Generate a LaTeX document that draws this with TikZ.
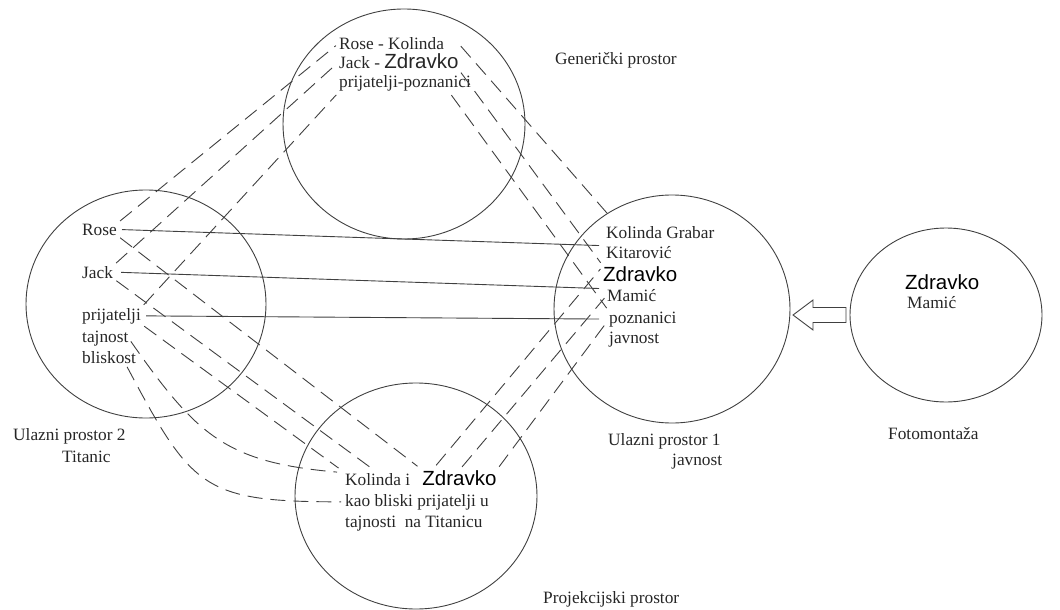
\documentclass[tikz,border=0pt]{standalone}
\usepackage{fontspec}
\setmainfont{Liberation Serif}
\setsansfont{Liberation Sans}
\usetikzlibrary{shapes.geometric, positioning}
\newcommand{\zdravko}{{\sffamily\fontsize{20.5}{24}\selectfont Zdravko}}
\tikzset{
    %Define style for the spaces
    prostor/.style={
           ellipse,
           draw=black!75, line width=0.9pt,
           inner sep=0pt, outer sep=0pt},
    %Define style for the labels
    oznaka/.style={
           inner sep=0pt,
           anchor=base west,
           text=black!85,
           font=\fontsize{17.3}{21}\selectfont},
    % Define style for the sans labels
    ime/.style={
           oznaka,
           text=black,
           font=\sffamily\fontsize{20.5}{24}\selectfont},
    % Define line styles
    veza/.style={
           draw=black!75,
           line width=0.9pt},
    mapa/.style={
           veza,
           dash pattern=on 15pt off 8pt,
           shorten <=4pt,
           shorten >=4pt}
}
\begin{document}
\begin{tikzpicture}[x=1pt, y=-1pt]
	\useasboundingbox (0,0) rectangle (1060,610);
	%
	% krugovi
	%
	\node[prostor, minimum width=242pt, minimum height=230pt] (gen) at (404,124) {};
	\node[prostor, minimum width=240pt, minimum height=228pt] (ul2) at (146,304) {};
	\node[prostor, minimum width=242pt, minimum height=226pt] (proj) at (416,496) {};
	\node[prostor, minimum width=236pt, minimum height=228pt] (ul1) at (672,309) {};
	\node[prostor, minimum width=192pt, minimum height=174pt] (foto) at (946,315) {};
	%
	% tekst
	%
	\node[oznaka] (rk) at (339,49) {Rose - Kolinda};
	\node[oznaka] (jz) at ([yshift=-20pt]rk.base west) {Jack - \zdravko};
	\node[oznaka] (pp) at ([yshift=-19pt]jz.base west) {prijatelji-poznanici};
	\node[oznaka] (genlab) at (555,65) {Generički prostor};

	\node[oznaka] (rose2) at (82,235) {Rose};
	\node[oznaka] (jack2) at (82,278) {Jack};
	\node[oznaka] (prij2) at (82,320) {prijatelji};
	\node[oznaka] (taj2) at ([yshift=-22pt]prij2.base west) {tajnost};
	\node[oznaka] (blis2) at ([yshift=-21pt]taj2.base west) {bliskost};
	\node[oznaka] (ul2lab) at (13,440) {Ulazni prostor 2};
	\node[oznaka] (tit) at (62,462) {Titanic};

	\node[oznaka] (ki) at (345,485) {Kolinda i};
	\node[ime] (zdr3) at ([xshift=12pt]ki.base east) {Zdravko};
	\node[oznaka] (kb) at ([yshift=-21pt]ki.base west) {kao bliski prijatelji u};
	\node[oznaka] (tn) at ([yshift=-21pt]kb.base west) {tajnosti\ \ na Titanicu};
	\node[oznaka] (projlab) at (543,603) {Projekcijski prostor};

	\node[oznaka] (kg) at (606,238) {Kolinda Grabar};
	\node[oznaka] (kit) at ([yshift=-20pt]kg.base west) {Kitarović};
	\node[ime] (zdr1) at (603,281) {Zdravko};
	\node[oznaka] (mam1) at (607,301) {Mamić};
	\node[oznaka] (pozn1) at (609,323) {poznanici};
	\node[oznaka] (jav1) at ([yshift=-20pt]pozn1.base west) {javnost};
	\node[oznaka] (ul1lab) at (608,445) {Ulazni prostor 1};
	\node[oznaka] (jav2) at (672,465) {javnost};

	\node[ime] (zdr4) at (905,289) {Zdravko};
	\node[oznaka] (mam4) at (907,308) {Mamić};
	\node[oznaka] (fotolab) at (888,439) {Fotomontaža};
	%
	% veze
	%
	\draw[veza, shorten <=5pt, shorten >=7pt] (rose2.east) -- (kit.north west);
	\draw[veza, shorten <=8pt, shorten >=8pt] (jack2.east) -- (mam1.north west);
	\draw[veza, shorten <=5pt, shorten >=10pt] (prij2.east) -- (pozn1.west);

	\draw[mapa] (rose2.north east) -- (rk.west);
	\draw[mapa] (jack2.north east) -- (jz.west);
	\draw[mapa] (prij2.north east) -- (pp.south west);

	\draw[mapa] ([xshift=14pt]rk.east) -- ([xshift=6pt, yshift=7pt]kg.north west);
	\draw[mapa] (jz.south east) -- (zdr1.north west);
	\draw[mapa] ([xshift=-22pt]pp.south east) -- (pozn1.north west);

	\draw[mapa, shorten >=6pt] (rose2.south east) -- (zdr3.north west);
	\draw[mapa, shorten >=8pt] (jack2.south east) -- (ki.north);
	\draw[mapa, shorten >=8pt] (prij2.south east) -- (ki.north west);
	\draw[mapa, shorten >=8pt] (taj2.east) to[out=-55, in=175, looseness=1.2] (ki.north west);
	\draw[mapa] ([xshift=-11pt]blis2.south east) to[out=-62, in=180, looseness=1.4] (kb.west);

	\draw[mapa, shorten <=6pt] ([xshift=10pt]zdr3.north west) -- (zdr1.north west);
	\draw[mapa] (zdr3.north) -- (mam1.west);
	\draw[mapa] (zdr3.north east) -- (pozn1.west);

	\draw[veza] ([xshift=-4pt]foto.west) ++(0,-7.5) -- ++(-33,0) -- ++(0,-7.5) -- ++(-20,15)
		-- ++(20,15) -- ++(0,-7.5) -- ++(33,0) -- cycle;
\end{tikzpicture}
\end{document}
